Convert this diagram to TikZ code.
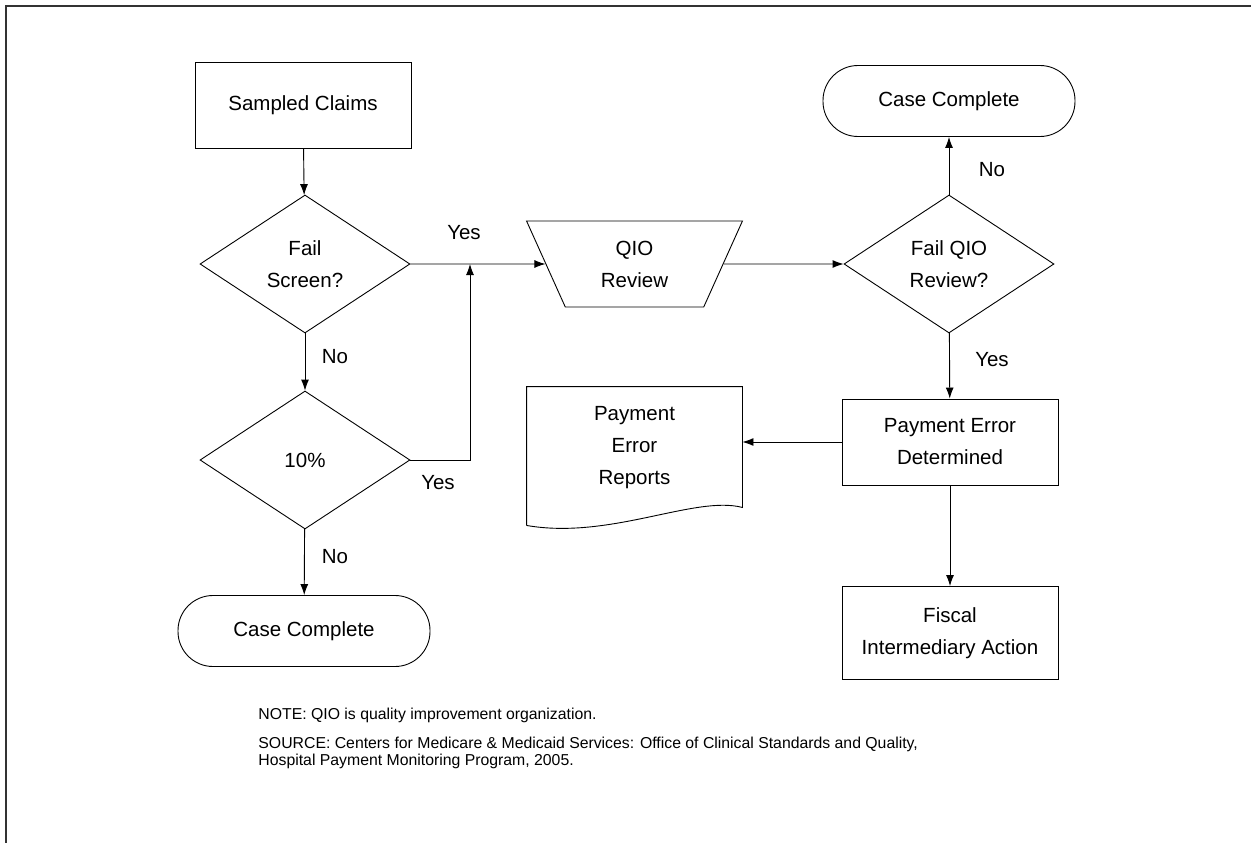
\documentclass[tikz,border=0pt]{standalone}
\usepackage{fontspec}
\setmainfont{Liberation Sans}
\usetikzlibrary{arrows.meta,shapes.geometric,calc}
\tikzstyle{process}=[rectangle,draw,minimum width=216pt,minimum height=86pt,inner sep=0pt,align=center]
\tikzstyle{decision}=[diamond,draw,minimum width=210pt,minimum height=138pt,inner sep=0pt,align=center]
\tikzstyle{terminal}=[rectangle,draw,rounded corners=35pt,minimum width=252pt,minimum height=71pt,inner sep=0pt]
\tikzstyle{review}=[trapezium,draw,shape border rotate=180,trapezium stretches=true,trapezium angle=68,minimum width=216pt,minimum height=86pt,inner sep=0pt,align=center]
\tikzstyle{edge}=[draw,-{Latex[length=11pt,width=8pt]}]
\tikzstyle{answer}=[inner sep=0pt]
\tikzstyle{note}=[anchor=base west,inner sep=0pt,font=\fontsize{15.8}{17}\selectfont]

\begin{document}
\begin{tikzpicture}[x=1pt,y=-1pt,line width=0.9pt,
    every node/.style={font=\fontsize{20.5}{32}\selectfont}]

    \useasboundingbox (0,0) rectangle (1251,843);
    \draw[line width=2pt,black!80] (6,843) -- (6,6) -- (1251,6);

    % left column
    \node[process] (claims) at (303,105) {Sampled Claims};
    \foreach \pos/\name/\txt in {{(305,264)/screen/Fail\\Screen?}, {(305,460)/ten/10\%}, {(949,264)/qiofail/Fail QIO\\Review?}}
        \node[decision] (\name) at \pos {\txt};
    \node[terminal] (doneleft) at (304,631) {Case Complete};

    % right part
    \node[review] (qio) at (634.5,264) {QIO\\Review};
    \node[terminal] (doneright) at (949,101) {Case Complete};
    \node[process] (payerr) at (950,442) {Payment Error\\Determined};
    \node[process,minimum height=93pt] (fiscal) at (950,633) {Fiscal\\Intermediary Action};

    % document shape
    \node[minimum width=215pt,minimum height=122pt,inner sep=0pt,align=center] (reports) at (634.5,448) {Payment\\Error\\Reports};
    \draw ($(reports.south west)+(0,16)$) -- (reports.north west) -- (reports.north east) -- ($(reports.south east)+(0,-2)$)
        .. controls (695,495) and (610,540) .. ($(reports.south west)+(0,16)$);

    \foreach \source/\dest in {claims/screen, screen/ten, ten/doneleft, qiofail/doneright, qiofail/payerr, payerr/fiscal}
        \path[edge] (\source) -- (\dest);
    \coordinate (join) at (470,264);
    \path[edge] (screen.east) -- (qio);
    \path[edge] (ten.east) -- (ten.east -| join) -- (join);
    \path[edge] (qio) -- (qiofail);
    \path[edge] (payerr.west) -- (payerr.west -| reports.east);

    \node[answer] (yesa) at (464,233) {Yes};
    \node[answer] (noa) at (335,357) {No};
    \node[answer] (yesb) at (438,483) {Yes};
    \node[answer] (nob) at (335,557) {No};
    \node[answer] (noc) at (992,170) {No};
    \node[answer] (yesc) at (992,360) {Yes};

    \node[note] (notea) at (258,719) {NOTE: QIO is quality improvement organization.};
    \node[note] (noteb) at (258,748) {SOURCE: Centers for Medicare \& Medicaid Services: Office of Clinical Standards and Quality,};
    \node[note] (notec) at (258,765) {Hospital Payment Monitoring Program, 2005.};

\end{tikzpicture}
\end{document}
